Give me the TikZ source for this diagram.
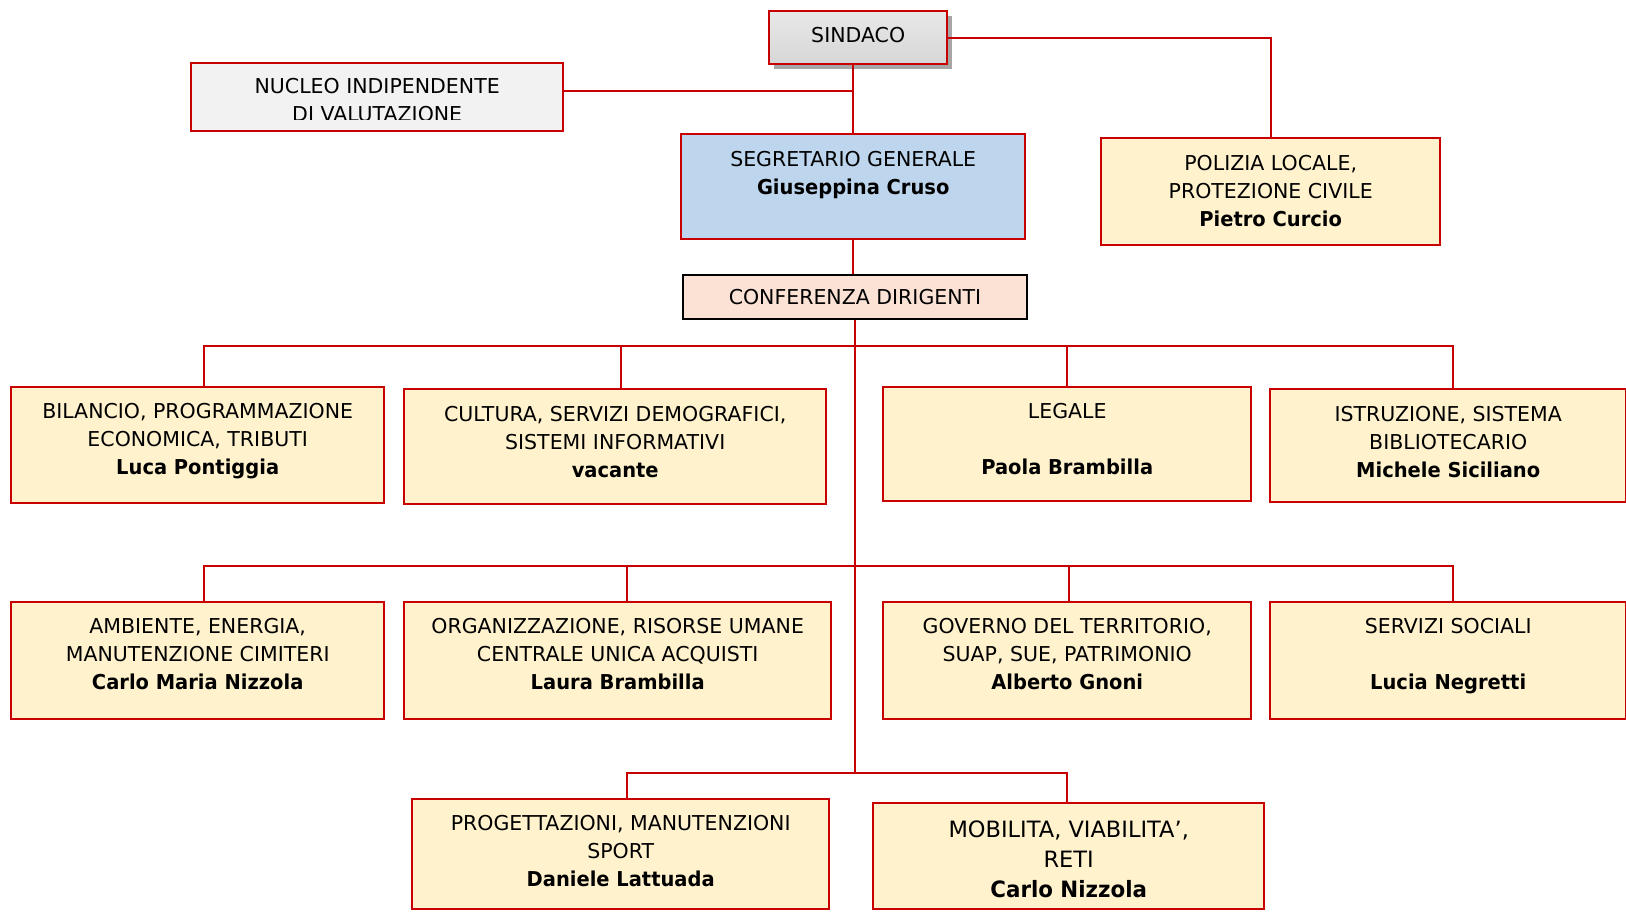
\documentclass[tikz,border=0pt]{standalone}
\usepackage{fontspec}
\setmainfont{DejaVu Sans}[BoldFeatures={FakeStretch=0.95}]
\usetikzlibrary{positioning,shadows}

\definecolor{rosso}{RGB}{200,0,0}
\definecolor{crema}{RGB}{255,242,204}
\definecolor{azzurro}{RGB}{190,214,237}
\definecolor{rosa}{RGB}{251,226,213}
\definecolor{grigio}{RGB}{242,242,242}

\begin{document}
\begin{tikzpicture}[x=1pt,y=-1pt,
    unit/.style={draw=rosso, line width=2.4pt, fill=crema, anchor=north west, inner sep=0pt},
    lbl/.style={anchor=north, align=center, inner sep=0pt, font=\fontsize{20.5}{28}\selectfont},
    link/.style={draw=rosso, line width=2pt}]
  \useasboundingbox[fill=white] (0,0) rectangle (1626,911);

  % vertice
  \node[unit, fill=none, top color=black!9, bottom color=black!16,
        drop shadow={shadow xshift=5pt, shadow yshift=-5pt, fill=black!35, opacity=1},
        minimum width=178pt, minimum height=53pt, text depth=5pt,
        font=\fontsize{20.5}{28}\selectfont]
        (sin) at (768,10) {SINDACO};
  \node[unit, fill=grigio, minimum width=372pt, minimum height=68pt] (niv) at (190,62) {};
  \begin{scope}
    \clip (192,64) rectangle (560,119);
    \node[lbl, below=16.5pt of niv.north] (nivT) {NUCLEO INDIPENDENTE\\DI VALUTAZIONE};
  \end{scope}
  \node[unit, fill=azzurro, minimum width=344pt, minimum height=105pt] (seg) at (680,133) {};
  \node[lbl, below=18.5pt of seg.north] (segT) {SEGRETARIO GENERALE\\\textbf{Giuseppina Cruso}};
  \node[unit, minimum width=339pt, minimum height=107pt] (pol) at (1100,137) {};
  \node[lbl, below=18.5pt of pol.north] (polT) {POLIZIA LOCALE,\\PROTEZIONE CIVILE\\\textbf{Pietro Curcio}};
  \node[unit, draw=black, line width=2pt, fill=rosa, minimum width=344pt, minimum height=44pt,
        font=\fontsize{20.5}{28}\selectfont] (conf) at (682,274) {CONFERENZA DIRIGENTI};

  % prima fila
  \node[unit, minimum width=373pt, minimum height=116pt] (bil) at (10,386) {};
  \node[lbl, below=17.5pt of bil.north] (bilT) {BILANCIO, PROGRAMMAZIONE\\ECONOMICA, TRIBUTI\\\textbf{Luca Pontiggia}};
  \node[unit, minimum width=422pt, minimum height=115pt] (cul) at (403,388) {};
  \node[lbl, below=18.5pt of cul.north] (culT) {CULTURA, SERVIZI DEMOGRAFICI,\\SISTEMI INFORMATIVI\\\textbf{vacante}};
  \node[unit, minimum width=368pt, minimum height=114pt] (leg) at (882,386) {};
  \node[lbl, below=17.5pt of leg.north] (legT) {LEGALE\\[28pt]\textbf{Paola Brambilla}};
  \node[unit, minimum width=356pt, minimum height=113pt] (ist) at (1269,388) {};
  \node[lbl, below=18.5pt of ist.north] (istT) {ISTRUZIONE, SISTEMA\\BIBLIOTECARIO\\\textbf{Michele Siciliano}};

  % seconda fila
  \node[unit, minimum width=373pt, minimum height=117pt] (amb) at (10,601) {};
  \node[lbl, below=17.5pt of amb.north] (ambT) {AMBIENTE, ENERGIA,\\MANUTENZIONE CIMITERI\\\textbf{Carlo Maria Nizzola}};
  \node[unit, minimum width=427pt, minimum height=117pt] (org) at (403,601) {};
  \node[lbl, below=17.5pt of org.north] (orgT) {ORGANIZZAZIONE, RISORSE UMANE\\CENTRALE UNICA ACQUISTI\\\textbf{Laura Brambilla}};
  \node[unit, minimum width=368pt, minimum height=117pt] (gov) at (882,601) {};
  \node[lbl, below=17.5pt of gov.north] (govT) {GOVERNO DEL TERRITORIO,\\SUAP, SUE, PATRIMONIO\\\textbf{Alberto Gnoni}};
  \node[unit, minimum width=356pt, minimum height=117pt] (soc) at (1269,601) {};
  \node[lbl, below=17.5pt of soc.north] (socT) {SERVIZI SOCIALI\\[28pt]\textbf{Lucia Negretti}};

  % terza fila
  \node[unit, minimum width=417pt, minimum height=110pt] (pro) at (411,798) {};
  \node[lbl, below=17.5pt of pro.north] (proT) {PROGETTAZIONI, MANUTENZIONI\\SPORT\\\textbf{Daniele Lattuada}};
  \node[unit, minimum width=391pt, minimum height=106pt] (mob) at (872,802) {};
  \node[lbl, font=\fontsize{22.5}{30}\selectfont, below=19pt of mob.north] (mobT) {MOBILITA, VIABILITA’,\\RETI\\\textbf{Carlo Nizzola}};

  % collegamenti
  \coordinate (r1) at (853,346);
  \coordinate (r2) at (853,566);
  \coordinate (r3) at (853,773);
  \draw[link] (seg.north) -- (seg.north |- sin.south);
  \draw[link] ([yshift=6pt]niv.east) -- ([yshift=6pt]niv.east -| seg.north);
  \draw[link] (sin.east) -| (pol.north);
  \draw[link] (seg.south) -- (seg.south |- conf.north);
  \draw[link] (conf.south) -- (conf.south |- r3);
  \draw[link] ([xshift=6pt]bil.north) -- ([xshift=6pt]bil.north |- r1) -- ([xshift=5pt]ist.north |- r1) -- ([xshift=5pt]ist.north);
  \draw[link] ([xshift=6pt]cul.north) -- ([xshift=6pt]cul.north |- r1);
  \draw[link] (leg.north) -- (leg.north |- r1);
  \draw[link] ([xshift=6pt]amb.north) -- ([xshift=6pt]amb.north |- r2) -- ([xshift=5pt]soc.north |- r2) -- ([xshift=5pt]soc.north);
  \draw[link] ([xshift=9pt]org.north) -- ([xshift=9pt]org.north |- r2);
  \draw[link] ([xshift=2pt]gov.north) -- ([xshift=2pt]gov.north |- r2);
  \draw[link] ([xshift=6pt]pro.north) |- (r3) -| ([xshift=-2pt]mob.north);
\end{tikzpicture}
\end{document}
